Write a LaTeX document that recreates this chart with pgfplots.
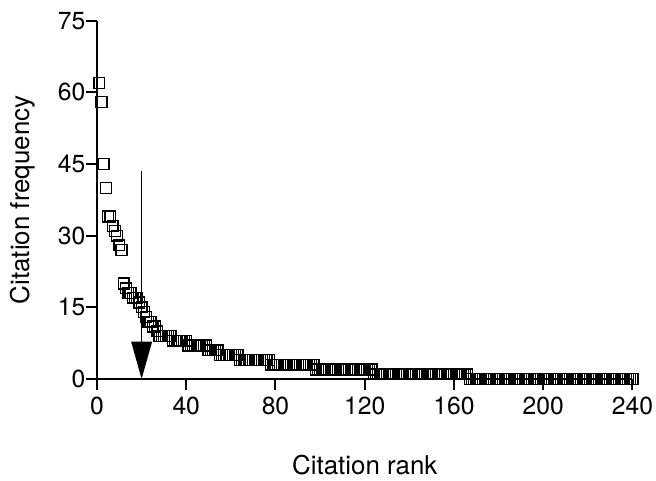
\documentclass[border=0pt]{standalone}
\usepackage{fontspec}
\setmainfont{TeX Gyre Heros}
\usepackage{pgfplots}
\pgfplotsset{compat=1.18}
\pgfplotstableread{
x y
1 62
2 58
3 45
4 40
5 34
6 34
7 32
8 31
9 30
10 28
11 27
12 20
13 19
14 18
15 18
16 17
17 17
18 17
19 16
20 15
21 14
22 13
23 12
24 12
25 11
26 11
27 10
28 9
29 9
30 9
31 9
32 9
33 9
34 8
35 8
36 8
37 8
38 8
39 8
40 8
41 7
42 7
43 7
44 7
45 7
46 7
47 7
48 7
49 7
50 6
51 6
52 6
53 6
54 6
55 5
56 5
57 5
58 5
59 5
60 5
61 5
62 5
63 5
64 4
65 4
66 4
67 4
68 4
69 4
70 4
71 4
72 4
73 4
74 4
75 4
76 4
77 4
78 3
79 3
80 3
81 3
82 3
83 3
84 3
85 3
86 3
87 3
88 3
89 3
90 3
91 3
92 3
93 3
94 3
95 3
96 3
97 3
98 2
99 2
100 2
101 2
102 2
103 2
104 2
105 2
106 2
107 2
108 2
109 2
110 2
111 2
112 2
113 2
114 2
115 2
116 2
117 2
118 2
119 2
120 2
121 2
122 2
123 2
124 1
125 1
126 1
127 1
128 1
129 1
130 1
131 1
132 1
133 1
134 1
135 1
136 1
137 1
138 1
139 1
140 1
141 1
142 1
143 1
144 1
145 1
146 1
147 1
148 1
149 1
150 1
151 1
152 1
153 1
154 1
155 1
156 1
157 1
158 1
159 1
160 1
161 1
162 1
163 1
164 1
165 1
166 1
167 0
168 0
169 0
170 0
171 0
172 0
173 0
174 0
175 0
176 0
177 0
178 0
179 0
180 0
181 0
182 0
183 0
184 0
185 0
186 0
187 0
188 0
189 0
190 0
191 0
192 0
193 0
194 0
195 0
196 0
197 0
198 0
199 0
200 0
201 0
202 0
203 0
204 0
205 0
206 0
207 0
208 0
209 0
210 0
211 0
212 0
213 0
214 0
215 0
216 0
217 0
218 0
219 0
220 0
221 0
222 0
223 0
224 0
225 0
226 0
227 0
228 0
229 0
230 0
231 0
232 0
233 0
234 0
235 0
236 0
237 0
238 0
239 0
240 0
}\citedata
\begin{document}
\begin{tikzpicture}
\path[use as bounding box] (-48.5bp,-51bp) rectangle (279.5bp,189.5bp);
\begin{axis}[
  at={(0,0)}, anchor=south west,
  scale only axis, width=267.75bp, height=179.15bp,
  xmin=0, xmax=240, ymin=0, ymax=75,
  xtick={0,40,80,120,160,200,240},
  ytick={0,15,30,45,60,75},
  axis x line*=bottom, axis y line*=left,
  axis line style={line width=1bp, -, black},
  tick align=outside, major tick length=5.5bp,
  tick style={line width=1bp, black},
  xtick pos=bottom, ytick pos=left,
  clip=false,
  /pgf/number format/assume math mode=true,
  ticklabel style={font=\fontsize{12.4}{14}\selectfont},
  yticklabel style={xshift=3.2bp},
  xlabel={Citation rank},
  ylabel={Citation frequency},
  every axis x label/.style={at={(rel axis cs:0.5,0)}, anchor=base, yshift=-47.7bp, font=\fontsize{13}{15}\selectfont},
  every axis y label/.style={at={(rel axis cs:0,0.5)}, xshift=-33.5bp, anchor=base, rotate=90, font=\fontsize{13}{15}\selectfont},
]
\addplot[only marks, mark=square, mark size=2.7bp, mark options={line width=0.7bp, black}] table {\citedata};
\addplot[line width=0.5bp, black, no markers] coordinates {(20,43.6) (20,7.8)};
\addplot[fill=black, draw=none, no markers] coordinates {(15.3,7.8) (24.7,7.8) (20,0)} -- cycle;
\end{axis}
\end{tikzpicture}
\end{document}
